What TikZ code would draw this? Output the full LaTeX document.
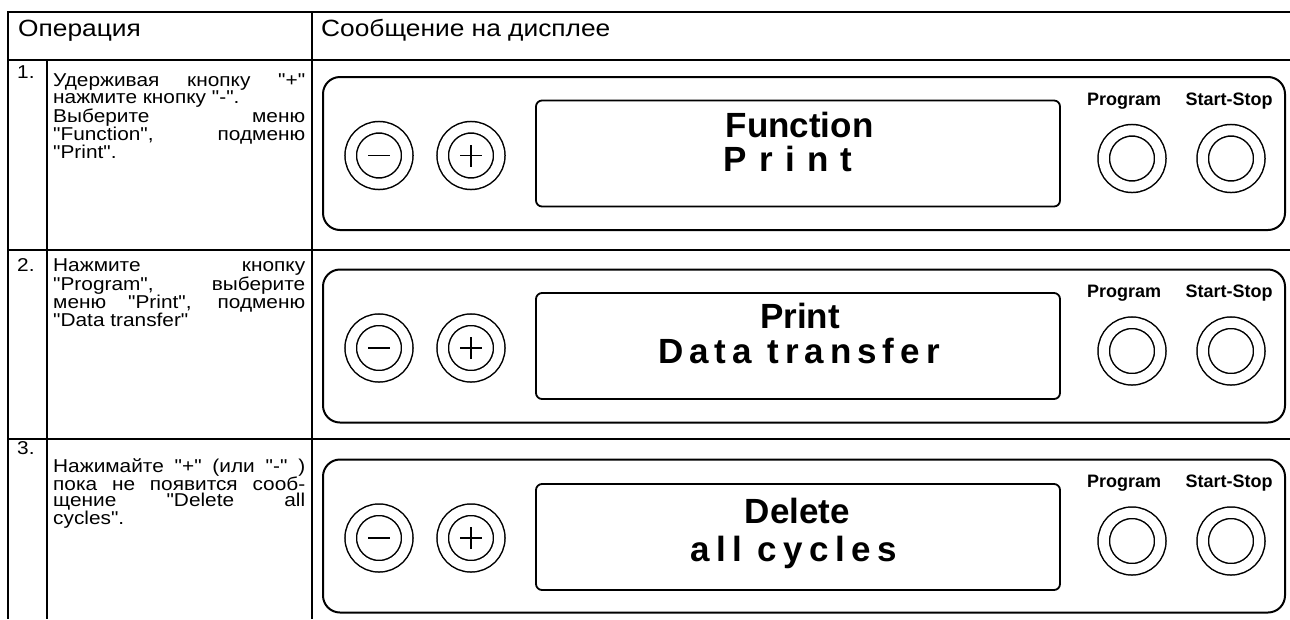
\documentclass[tikz,border=0pt]{standalone}
\usepackage{fontspec}
\setmainfont{Liberation Sans}
\newfontfamily\bodyfont{Liberation Sans}[FakeStretch=1.12]
\usetikzlibrary{positioning}
\tolerance=10000
\hbadness=10000
\tikzstyle{tabline}=[line width=2pt]
\tikzstyle{panel}=[rectangle,draw,line width=2pt,rounded corners=17pt,
minimum width=962pt,minimum height=153pt]
\tikzstyle{screen}=[rectangle,draw,line width=1.8pt,rounded corners=6pt,
minimum width=524pt,minimum height=106pt]
\tikzstyle{knob}=[circle,draw,line width=1.5pt,double,double distance=10pt,
minimum size=56.5pt,inner sep=0pt]
\tikzstyle{knobname}=[anchor=base,inner sep=0pt,font=\bfseries\fontsize{18}{18}\selectfont]
\tikzstyle{lcd}=[anchor=base,inner sep=0pt,font=\bfseries\fontsize{35}{35}\selectfont]
\tikzstyle{head}=[anchor=base west,inner sep=0pt,font=\bodyfont\fontsize{23.5}{23.5}\selectfont]
\tikzstyle{num}=[anchor=north west,inner sep=0pt,font=\bodyfont\fontsize{18.6}{15.6}\selectfont]
\tikzstyle{cell}=[anchor=north west,inner sep=0pt,text width=252pt,align=justify,
font=\bodyfont\fontsize{18.6}{15.6}\selectfont]

\begin{document}
\begin{tikzpicture}[x=1pt,y=-1pt,node distance=92pt]
  \useasboundingbox (0,0) rectangle (1290,619);

  % table
  \draw[tabline] (8,12) -- (1290,12);
  \draw[tabline] (8,60) -- (1290,60);
  \draw[tabline] (8,250) -- (1290,250);
  \draw[tabline] (8,439) -- (1290,439);
  \draw[tabline] (8,11) -- (8,619);
  \draw[tabline] (47,60) -- (47,619);
  \draw[tabline] (312,11) -- (312,619);

  \node[head] (hop) at (18,36.5) {Операция};
  \node[head] (hmsg) at (321,36.5) {Сообщение на дисплее};

  % operations
  \node[num] (n1) at (17,65) {1.};
  \node[cell] (op1) at (53,73) {Удерживая кнопку "+"\linebreak
    нажмите кнопку "-".\\ Выберите меню\linebreak
    "Function", подменю\linebreak "Print".};
  \node[num] (n2) at (17,258.5) {2.};
  \node[cell] (op2) at (53,258.5) {Нажмите кнопку\linebreak
    "Program", выберите\linebreak меню "Print", подменю\linebreak
    "Data transfer"};
  \node[num] (n3) at (17,441) {3.};
  \node[cell] (op3) at (53,458) {Нажимайте "+" (или "-" )\linebreak
    пока не появится сооб-\linebreak щение "Delete all\linebreak
    cycles".};

  % display 1
  \node[panel] (pan1) at (804,153.5) {};
  \node[screen] (scr1) at (798,153.5) {};
  \node[knob] (minus1) at (379,155.5) {};
  \node[knob, right of=minus1] (plus1) {};
  \node[knob] (prog1) at (1132,158.5) {};
  \node[knob, node distance=99pt, right of=prog1] (ss1) {};
  \node[knobname] (lprog1) at (1124,105) {Program};
  \node[knobname] (lss1) at (1229,105) {Start-Stop};
  \node[lcd] (fn1) at (799.5,137) {Function};
  \node[lcd] (pr1) at (788,171) {\addfontfeature{LetterSpace=35}Print};
  \draw[line width=1.5pt] ([xshift=-11pt]minus1.center) -- ([xshift=11pt]minus1.center);
  \draw[line width=1.5pt] ([xshift=-11pt]plus1.center) -- ([xshift=11pt]plus1.center);
  \draw[line width=1.5pt] ([yshift=-11pt]plus1.center) -- ([yshift=11pt]plus1.center);

  % display 2
  \node[panel] (pan2) at (804,346) {};
  \node[screen] (scr2) at (798,346) {};
  \node[knob] (minus2) at (379,348) {};
  \node[knob, right of=minus2] (plus2) {};
  \node[knob] (prog2) at (1132,351) {};
  \node[knob, node distance=99pt, right of=prog2] (ss2) {};
  \node[knobname] (lprog2) at (1124,297.5) {Program};
  \node[knobname] (lss2) at (1229,297.5) {Start-Stop};
  \node[lcd] (pr2) at (800,328.5) {Print};
  \node[lcd] (dt2) at (799,363) {\addfontfeature{LetterSpace=17}Data transfer};
  \draw[line width=1.5pt] ([xshift=-11pt]minus2.center) -- ([xshift=11pt]minus2.center);
  \draw[line width=1.5pt] ([xshift=-11pt]plus2.center) -- ([xshift=11pt]plus2.center);
  \draw[line width=1.5pt] ([yshift=-11pt]plus2.center) -- ([yshift=11pt]plus2.center);

  % display 3
  \node[panel] (pan3) at (804,536) {};
  \node[screen] (scr3) at (798,537) {};
  \node[knob] (minus3) at (379,538) {};
  \node[knob, right of=minus3] (plus3) {};
  \node[knob] (prog3) at (1132,541) {};
  \node[knob, node distance=99pt, right of=prog3] (ss3) {};
  \node[knobname] (lprog3) at (1124,487.5) {Program};
  \node[knobname] (lss3) at (1229,487.5) {Start-Stop};
  \node[lcd] (de3) at (797.5,523) {Delete};
  \node[lcd] (ac3) at (793.5,561) {\addfontfeature{LetterSpace=18}all cycles};
  \draw[line width=1.5pt] ([xshift=-11pt]minus3.center) -- ([xshift=11pt]minus3.center);
  \draw[line width=1.5pt] ([xshift=-11pt]plus3.center) -- ([xshift=11pt]plus3.center);
  \draw[line width=1.5pt] ([yshift=-11pt]plus3.center) -- ([yshift=11pt]plus3.center);
\end{tikzpicture}
\end{document}
